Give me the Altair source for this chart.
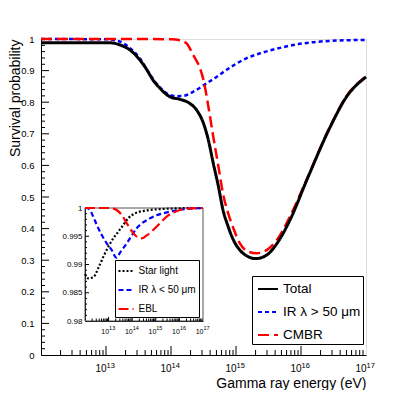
import altair as alt
import pandas as pd

FONT = "Liberation Sans"

# ---------------- main panel data (log10 of energy in eV, survival probability)
total_logE = [12.0, 12.5, 13.06, 13.22, 13.37, 13.52, 13.63, 13.73, 13.83, 13.985, 14.14, 14.29,
              14.395, 14.5, 14.575, 14.65, 14.73, 14.8, 14.88, 14.96, 15.06, 15.19, 15.3, 15.47,
              15.63, 15.83, 16.09, 16.45, 16.7, 17.0]
total_p = [0.988, 0.988, 0.988, 0.981, 0.965, 0.934, 0.902, 0.868, 0.844, 0.817, 0.809, 0.796,
           0.775, 0.733, 0.68, 0.607, 0.533, 0.459, 0.406, 0.364, 0.332, 0.311, 0.305, 0.316,
           0.353, 0.427, 0.554, 0.722, 0.817, 0.88]

irgt_logE = [12.0, 13.0, 13.2, 13.37, 13.52, 13.68, 13.83, 13.98, 14.1, 14.19, 14.34, 14.55, 14.65,
             14.91, 15.16, 15.41, 15.68, 15.93, 16.19, 16.55, 17.0]
irgt_p = [1.0, 0.999, 0.993, 0.971, 0.939, 0.886, 0.847, 0.823, 0.819, 0.82, 0.833, 0.86, 0.873,
          0.91, 0.939, 0.957, 0.972, 0.983, 0.99, 0.995, 0.997]

cmbr_logE = [12.0, 13.5, 14.0, 14.14, 14.24, 14.34, 14.45, 14.5, 14.575, 14.65, 14.73, 14.8, 14.88,
             14.96, 15.06, 15.19, 15.32, 15.47, 15.63, 15.83, 16.09, 16.45, 16.7, 17.0]
cmbr_p = [1.0, 1.0, 0.999, 0.996, 0.986, 0.95, 0.905, 0.87, 0.786, 0.691, 0.596, 0.511, 0.448,
          0.401, 0.353, 0.327, 0.322, 0.332, 0.364, 0.438, 0.557, 0.724, 0.819, 0.881]

main_names = ["Total", "IR λ > 50 μm", "CMBR"]
main_colors = ["black", "#0000ff", "#ff0000"]
main_dashes = [[1, 0], [4, 3], [11, 5]]

# ---------------- inset data
star_logE = [12.0, 12.14, 12.35, 12.56, 12.78, 12.99, 13.2, 13.41, 13.62, 13.83, 14.12, 14.5, 15.2, 16.0, 17.0]
star_p = [0.9883, 0.98756, 0.98773, 0.98933, 0.99139, 0.99315, 0.99463, 0.9958, 0.99699, 0.99817,
          0.99906, 0.9995, 0.9998, 0.99995, 1.0]

irlt_logE = [12.0, 12.1, 12.21, 12.35, 12.5, 12.71, 12.92, 13.13, 13.33, 13.5, 13.77, 14.19, 14.75, 15.6, 16.5, 17.0]
irlt_p = [1.0, 0.99995, 0.99965, 0.99847, 0.997, 0.99522, 0.99375, 0.99257, 0.9912, 0.9922, 0.99375,
          0.99641, 0.99817, 0.99935, 0.9999, 1.0]

ebl_logE = [12.0, 13.0, 13.2, 13.34, 13.55, 13.77, 14.05, 14.2, 14.4, 14.6, 14.89, 15.2, 15.46, 16.03, 16.5, 17.0]
ebl_p = [1.0, 1.0, 0.9999, 0.99965, 0.9988, 0.99729, 0.99552, 0.9949, 0.99464, 0.9951, 0.9961, 0.9974,
         0.99846, 0.99965, 0.99995, 1.0]

inset_names = ["Star light", "IR λ < 50 μm", "EBL"]
inset_colors = ["black", "#0000ff", "#ff0000"]
inset_dashes = [[2, 2], [5, 3], [10, 4]]

# ---------------- ticks / labels
x_exps = [13, 14, 15, 16, 17]
x_base_label = "10"
x_exp_labels = ["13", "14", "15", "16", "17"]
y_main_ticks = [0.0, 0.1, 0.2, 0.3, 0.4, 0.5, 0.6, 0.7, 0.8, 0.9, 1.0]
y_inset_ticks = [0.98, 0.985, 0.99, 0.995, 1.0]

W, H = 325, 316
IN_X = [44, 162]
IN_Y = [282, 169]


def frame(logs, vals, name):
    return pd.DataFrame({"E": [10 ** v for v in logs], "P": vals, "series": name})


exp_expr = " : ".join(
    f"round(log(datum.value)/LN10) == {e} ? '{lab}'" for e, lab in zip(x_exps, x_exp_labels)
) + " : ''"
base_expr = f"'{x_base_label}'"

x_vals = [10.0 ** e for e in x_exps]
decade_minor = [k * 10.0 ** n for n in range(12, 17) for k in range(2, 10)]
decade_major = [10.0 ** n for n in range(13, 17)]


def log_scale(rng=None):
    if rng is None:
        return alt.Scale(type="log", domain=[1e12, 1e17], nice=False)
    return alt.Scale(type="log", domain=[1e12, 1e17], range=rng, nice=False)


def xticks(vals, scale, axis, ybase, length):
    return alt.Chart(pd.DataFrame({"E": vals})).mark_rule(color="black", strokeWidth=1).encode(
        x=alt.X("E:Q", scale=scale, axis=axis), y=alt.value(ybase), y2=alt.value(ybase - length))


def yticks(vals, scale, axis, xbase, length):
    return alt.Chart(pd.DataFrame({"P": vals})).mark_rule(color="black", strokeWidth=1).encode(
        y=alt.Y("P:Q", scale=scale, axis=axis), x=alt.value(xbase), x2=alt.value(xbase + length))


# ================= MAIN PANEL =================
main_x = log_scale()
main_x_exp = log_scale()
main_y = alt.Scale(domain=[0, 1], nice=False, zero=False)

x_axis = alt.Axis(orient="bottom", values=x_vals, labelExpr=base_expr, ticks=False,
                  domainColor="black", labelFont=FONT, labelFontSize=10, labelPadding=8,
                  labelAlign="right", labelFlush=False, labelOverlap=False, grid=False,
                  labelColor="black",
                  title="Gamma ray energy (eV)", titleFont=FONT, titleFontSize=14,
                  titleFontWeight="normal", titleX=W, titleY=32, titleAlign="right",
                  titleBaseline="alphabetic", titleColor="black")
x_exp_axis = alt.Axis(orient="bottom", values=x_vals, labelExpr=exp_expr, ticks=False, domain=False,
                      labelFont=FONT, labelFontSize=7.5, labelPadding=6, labelAlign="left",
                      labelFlush=False, labelOverlap=False, grid=False, labelColor="black",
                      title=None)
y_axis = alt.Axis(orient="left", values=y_main_ticks, format=".1~f", ticks=False,
                  domainColor="black", labelFont=FONT, labelFontSize=9.5, labelPadding=7,
                  labelFlush=False, labelOverlap=False, grid=False, labelColor="black",
                  title="Survival probability", titleFont=FONT, titleFontSize=14,
                  titleFontWeight="normal", titleX=-22, titleY=0, titleAngle=270,
                  titleAlign="right", titleBaseline="alphabetic", titleColor="black")

main_legend = alt.Legend(orient="none", legendX=211, legendY=237, title=None,
                         strokeColor="black", fillColor="white", padding=2,
                         symbolType="stroke", symbolSize=400, symbolStrokeWidth=2,
                         symbolOffset=3, labelFont=FONT, labelFontSize=13.5, labelOffset=4,
                         rowPadding=5, cornerRadius=0, labelColor="black")

main_color = alt.Color("series:N", scale=alt.Scale(domain=main_names, range=main_colors),
                       legend=main_legend)
main_dash = alt.StrokeDash("series:N", scale=alt.Scale(domain=main_names, range=main_dashes),
                           legend=main_legend)

df_total = frame(total_logE, total_p, "Total")
df_others = pd.concat([frame(irgt_logE, irgt_p, "IR λ > 50 μm"), frame(cmbr_logE, cmbr_p, "CMBR")])

others_line = alt.Chart(df_others).mark_line(strokeWidth=2.5, interpolate="monotone").encode(
    x=alt.X("E:Q", scale=main_x, axis=x_axis),
    y=alt.Y("P:Q", scale=main_y, axis=y_axis),
    color=main_color, strokeDash=main_dash)
total_line = alt.Chart(df_total).mark_line(strokeWidth=3, interpolate="monotone").encode(
    x=alt.X("E:Q", scale=main_x, axis=x_axis),
    y=alt.Y("P:Q", scale=main_y, axis=y_axis),
    color=main_color, strokeDash=main_dash)

y_major = [round(0.1 * i, 2) for i in range(1, 10)]
y_minor = [round(0.02 * i, 2) for i in range(1, 50) if i % 5 != 0]

main_core = alt.layer(
    others_line, total_line,
    yticks(y_major, main_y, y_axis, 0, 8),
    yticks(y_minor, main_y, y_axis, 0, 4),
)
main_exp = alt.layer(
    xticks(decade_major, main_x_exp, x_exp_axis, H, 9),
    xticks(decade_minor, main_x_exp, x_exp_axis, H, 5),
)

# ================= INSET =================
in_x = log_scale(IN_X)
in_x_exp = log_scale(IN_X)
in_y = alt.Scale(domain=[0.98, 1.0], range=IN_Y, nice=False, zero=False)

in_x_axis = alt.Axis(orient="bottom", offset=-(H - IN_Y[0]), values=x_vals, labelExpr=base_expr,
                     ticks=False, domainColor="black", labelFont=FONT, labelFontSize=7,
                     labelPadding=6.5, labelAlign="right", labelFlush=False, labelOverlap=False,
                     grid=False, title=None, labelColor="black")
in_x_exp_axis = alt.Axis(orient="bottom", offset=-(H - IN_Y[0]), values=x_vals, labelExpr=exp_expr,
                         ticks=False, domain=False, labelFont=FONT, labelFontSize=5.5,
                         labelPadding=4.5, labelAlign="left", labelFlush=False, labelOverlap=False,
                         grid=False, title=None, labelColor="black")
in_y_axis = alt.Axis(orient="left", offset=-IN_X[0], values=y_inset_ticks, format=".3~f",
                     ticks=False, domainColor="black", labelFont=FONT, labelFontSize=8,
                     labelPadding=3, labelFlush=False, labelOverlap=False, grid=False,
                     title=None, labelColor="black")

inset_legend = alt.Legend(orient="none", legendX=74, legendY=221, title=None,
                          strokeColor="black", fillColor="white", padding=2.5,
                          symbolType="stroke", symbolSize=225, symbolStrokeWidth=2,
                          labelFont=FONT, labelFontSize=10, labelOffset=4, rowPadding=5,
                          cornerRadius=0, labelColor="black")

df_inset = pd.concat([frame(star_logE, star_p, "Star light"),
                      frame(irlt_logE, irlt_p, "IR λ < 50 μm"),
                      frame(ebl_logE, ebl_p, "EBL")])

inset_lines = alt.Chart(df_inset).mark_line(strokeWidth=2.2, interpolate="monotone").encode(
    x=alt.X("E:Q", scale=in_x, axis=in_x_axis),
    y=alt.Y("P:Q", scale=in_y, axis=in_y_axis),
    color=alt.Color("series:N", scale=alt.Scale(domain=inset_names, range=inset_colors),
                    legend=inset_legend),
    strokeDash=alt.StrokeDash("series:N", scale=alt.Scale(domain=inset_names, range=inset_dashes),
                              legend=inset_legend))

inset_frame = alt.Chart(pd.DataFrame({"a": [0]})).mark_rect(
    fillOpacity=0, stroke="#555", strokeWidth=1).encode(
    x=alt.X(datum=1e12, type="quantitative", scale=in_x, axis=in_x_axis),
    x2=alt.X2(datum=1e17),
    y=alt.Y(datum=0.98, type="quantitative", scale=in_y, axis=in_y_axis),
    y2=alt.Y2(datum=1.0))

in_y_major = [0.985, 0.99, 0.995]
in_y_minor = [round(0.98 + 0.001 * i, 3) for i in range(1, 20) if i % 5 != 0]

inset_core = alt.layer(
    inset_frame, inset_lines,
    yticks(in_y_major, in_y, in_y_axis, IN_X[0], 4),
    yticks(in_y_minor, in_y, in_y_axis, IN_X[0], 2),
)
inset_exp = alt.layer(
    xticks(decade_major, in_x_exp, in_x_exp_axis, IN_Y[0], 4),
    xticks(decade_minor, in_x_exp, in_x_exp_axis, IN_Y[0], 2.5),
)

chart = alt.layer(main_core, main_exp, inset_core, inset_exp).resolve_scale(
    x="independent", y="independent", color="independent", strokeDash="independent"
).properties(
    width=W, height=H,
    padding={"left": 33, "top": 31, "right": 30, "bottom": 35},
    autosize=alt.AutoSizeParams(type="none"),
).configure_view(stroke="#666", strokeWidth=1).configure(font=FONT, background="white")

chart.save("out.html", embed_options={"renderer": "svg", "actions": False})
